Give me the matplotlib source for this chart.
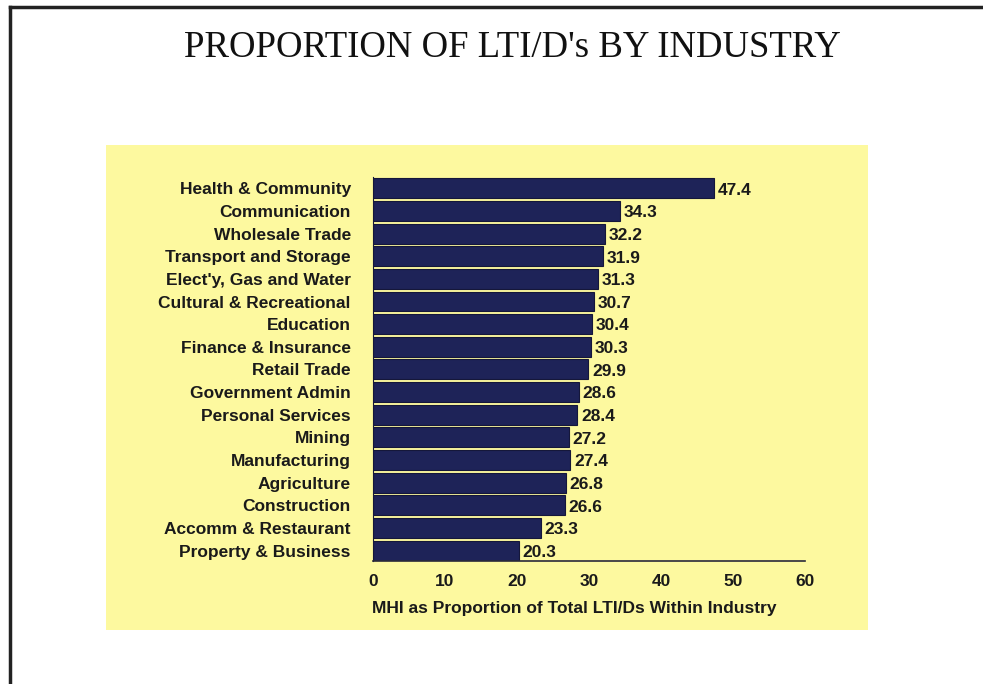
import matplotlib
matplotlib.use("Agg")
import matplotlib.pyplot as plt
from matplotlib.patches import Rectangle
from matplotlib.lines import Line2D

industries = [
    "Health & Community", "Communication", "Wholesale Trade",
    "Transport and Storage", "Elect'y, Gas and Water", "Cultural & Recreational",
    "Education", "Finance & Insurance", "Retail Trade", "Government Admin",
    "Personal Services", "Mining", "Manufacturing", "Agriculture",
    "Construction", "Accomm & Restaurant", "Property & Business",
]
proportions = [47.4, 34.3, 32.2, 31.9, 31.3, 30.7, 30.4, 30.3, 29.9, 28.6,
               28.4, 27.2, 27.4, 26.8, 26.6, 23.3, 20.3]
x_ticks = [0, 10, 20, 30, 40, 50, 60]

W, H = 983, 684
FS = 12.5
fig = plt.figure(figsize=(W / 100, H / 100), dpi=100)
fig.patch.set_facecolor("white")

# frame lines along the top and left edge
fig.add_artist(Line2D([10 / W, 10 / W], [0, 1 - 7 / H], color="#222222", lw=2.5,
                      transform=fig.transFigure))
fig.add_artist(Line2D([10 / W, 1], [1 - 7 / H, 1 - 7 / H], color="#222222", lw=2.5,
                      transform=fig.transFigure))

# yellow panel behind the chart
fig.add_artist(Rectangle((106 / W, 1 - 630 / H), (868 - 106) / W, (630 - 145) / H,
                         facecolor="#fdf99f", edgecolor="none",
                         transform=fig.transFigure, zorder=0))

fig.text(512 / W, 1 - 48 / H, "PROPORTION OF LTI/D's BY INDUSTRY",
         family="Liberation Serif", fontsize=26.5, ha="center", va="center",
         color="#111111")

ax = fig.add_axes([373 / W, 1 - 561 / H, (805 - 373) / W, (561 - 177) / H])
ax.set_facecolor("none")

ypos = list(range(len(industries)))
ax.barh(ypos, proportions, height=0.88, color="#1e2358", edgecolor="#15173a",
        linewidth=0.8)
for y, v in zip(ypos, proportions):
    ax.text(v + 0.5, y + 0.08, f"{v:.1f}", va="center", ha="left",
            family="Liberation Sans", fontweight="bold", fontsize=FS,
            color="#1a1a1a")

ax.set_xlim(0, 60)
ax.set_ylim(16.46, -0.5)
ax.set_xticks(x_ticks)
ax.set_xticklabels([str(t) for t in x_ticks])
ax.set_yticks(ypos)
ax.set_yticklabels(industries)
for lab in ax.get_xticklabels() + ax.get_yticklabels():
    lab.set_family("Liberation Sans")
    lab.set_fontweight("bold")
    lab.set_fontsize(FS)
    lab.set_color("#1a1a1a")
ax.tick_params(axis="y", length=0, pad=16)
ax.tick_params(axis="x", length=0, pad=9)

ax.set_xlabel("MHI as Proportion of Total LTI/Ds Within Industry",
              family="Liberation Sans", fontweight="bold", fontsize=FS,
              color="#1a1a1a")
ax.xaxis.set_label_coords(0.465, -0.105)

for side in ("top", "right"):
    ax.spines[side].set_visible(False)
ax.spines["left"].set_color("#15173a")
ax.spines["bottom"].set_color("#2a2a3a")
ax.spines["bottom"].set_linewidth(1.2)

fig.savefig("out.png", dpi=100)
